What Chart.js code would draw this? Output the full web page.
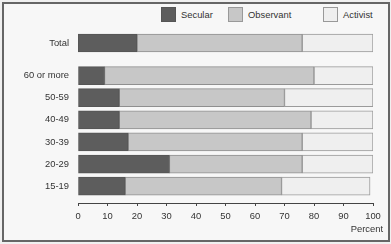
<!DOCTYPE html>
<html>
<head>
<meta charset="utf-8">
<script src="https://cdn.jsdelivr.net/npm/chart.js@4.4.1/dist/chart.umd.min.js"></script>
<style>
  html, body { margin:0; padding:0; background:#f0f0f0; }
  body { width:391px; height:244px; position:relative; overflow:hidden; font-family:"Liberation Sans", Arial, sans-serif; }
  #frame { position:absolute; left:2px; top:2px; width:388px; height:240px; box-sizing:border-box; border:2px solid #666; background:#f7f7f7; }
  canvas.layer { position:absolute; left:0; top:0; }
  .lg { position:absolute; top:7px; height:15px; font-size:9.4px; color:#333; line-height:15px; }
  .lg .box { position:absolute; left:0; top:0; width:15px; height:15px; box-sizing:border-box; border:1px solid #999; }
  .lg .txt { position:absolute; left:20px; top:0; white-space:nowrap; }
  #pct { position:absolute; right:8px; top:223px; font-size:9.4px; color:#333; line-height:11px; }
</style>
</head>
<body>
<div id="frame"></div>
<div class="lg" style="left:161px"><div class="box" style="background:#5d5d5d;border-color:#555"></div><div class="txt">Secular</div></div>
<div class="lg" style="left:228px"><div class="box" style="background:#c7c7c7"></div><div class="txt">Observant</div></div>
<div class="lg" style="left:323px"><div class="box" style="background:#efefef"></div><div class="txt">Activist</div></div>
<div style="position:absolute;left:0;top:0;width:391px;height:244px"><canvas id="c1" class="layer" width="391" height="244"></canvas></div>
<div style="position:absolute;left:0;top:0;width:391px;height:244px"><canvas id="c2" class="layer" width="391" height="244"></canvas></div>
<div id="pct">Percent</div>
<script>
const seriesNames = ['Secular', 'Observant', 'Activist'];
const totalCategory = ['Total'];
const totalSecular = [20];
const totalObservant = [56];
const totalActivist = [24];
const ageCategories = ['60 or more', '50-59', '40-49', '30-39', '20-29', '15-19'];
const ageSecular = [9, 14, 14, 17, 31, 16];
const ageObservant = [71, 56, 65, 59, 45, 53];
const ageActivist = [20, 30, 21, 24, 24, 30];
const xTickMin = 0, xTickMax = 100, xTickStep = 10;

const fills = ['#5d5d5d', '#c7c7c7', '#efefef'];
const borders = ['#555555', '#8f8f8f', '#9a9a9a'];
const FONT = { family: '"Liberation Sans", Arial, sans-serif', size: 9.4, lineHeight: 1 };

function makeDatasets(vals) {
  return vals.map((v, i) => ({
    label: seriesNames[i], data: v,
    backgroundColor: fills[i], borderColor: borders[i], borderWidth: 1, borderSkipped: false,
    barThickness: 18
  }));
}

function yAxis(extra) {
  return {
    stacked: true,
    grid: { display: false, drawTicks: false },
    border: { display: false },
    ticks: { color: '#333', font: FONT, padding: 9 },
    afterFit: s => { s.width = 78; },
    afterBuildTicks: s => { if (extra) s._valueRange += extra; }
  };
}

const common = {
  indexAxis: 'y', responsive: false, animation: false,
  plugins: { legend: { display: false }, tooltip: { enabled: false } }
};

new Chart(document.getElementById('c1'), {
  type: 'bar',
  data: { labels: totalCategory, datasets: makeDatasets([totalSecular, totalObservant, totalActivist]) },
  options: Object.assign({}, common, {
    layout: { padding: { top: 28, bottom: 186, left: 0, right: 18 } },
    scales: {
      x: { stacked: true, display: false, min: xTickMin, max: xTickMax },
      y: yAxis(0)
    }
  })
});

new Chart(document.getElementById('c2'), {
  type: 'bar',
  data: { labels: ageCategories, datasets: makeDatasets([ageSecular, ageObservant, ageActivist]) },
  options: Object.assign({}, common, {
    layout: { padding: { top: 64.5, bottom: 16.6, left: 0, right: 18 } },
    scales: {
      x: {
        stacked: true, min: xTickMin, max: xTickMax,
        ticks: { stepSize: xTickStep, color: '#333', font: FONT, padding: 6, maxRotation: 0 },
        grid: { drawOnChartArea: false, drawTicks: true, tickLength: 3, color: '#444' },
        border: { display: true, color: '#444', width: 1 }
      },
      y: yAxis(0.26)
    }
  })
});
</script>
</body>
</html>
